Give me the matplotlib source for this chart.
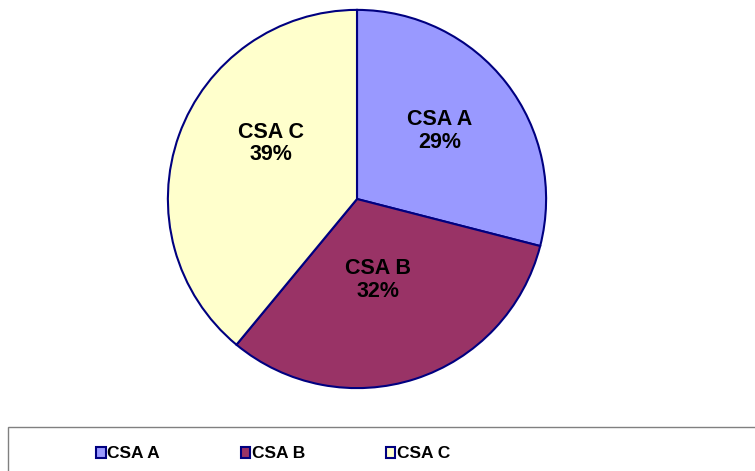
import matplotlib.pyplot as plt
from matplotlib.patches import Rectangle

plt.rcParams['font.family'] = ['Liberation Sans', 'DejaVu Sans']

categories = ['CSA A', 'CSA B', 'CSA C']
shares = [29, 32, 39]
colors = ['#9999FF', '#993366', '#FFFFCC']
edge = '#000080'
# label centres, in pie radius units
label_pos = [(0.435, 0.359), (0.110, -0.427), (-0.453, 0.293)]

fig = plt.figure(figsize=(7.55, 4.71), dpi=100)
ax = fig.add_axes([166 / 755, 81 / 471, 382 / 755, 382 / 471])

wedges, _ = ax.pie(shares, colors=colors, startangle=90, counterclock=False,
                   wedgeprops=dict(edgecolor=edge, linewidth=1.5))
for c, v, (x, y) in zip(categories, shares, label_pos):
    ax.text(x, y, '%s\n%d%%' % (c, v), ha='center', va='center', fontsize=15.5,
            fontweight='bold', linespacing=1.1)
ax.set_xlim(-1.01, 1.01)
ax.set_ylim(-1.01, 1.01)
ax.set_aspect('equal')

# legend frame runs off the right and bottom edges
fig.patches.append(Rectangle((8 / 755, -0.1), 1.0, 1 - 427 / 471 + 0.1,
                             transform=fig.transFigure, facecolor='white',
                             edgecolor='#808080', linewidth=1.0, zorder=0))

leg = fig.legend(wedges, categories, loc='center left', bbox_to_anchor=(96 / 755, 1 - 454 / 471),
                 ncol=3, frameon=False, borderpad=0, borderaxespad=0,
                 handlelength=0.55, handleheight=0.6,
                 handletextpad=0.1, columnspacing=4.65,
                 prop=dict(size=12.5, weight='bold'))
for h in leg.legend_handles:
    h.set_linewidth(1.5)
    h.set_edgecolor(edge)

fig.savefig('out.png', dpi=100)
